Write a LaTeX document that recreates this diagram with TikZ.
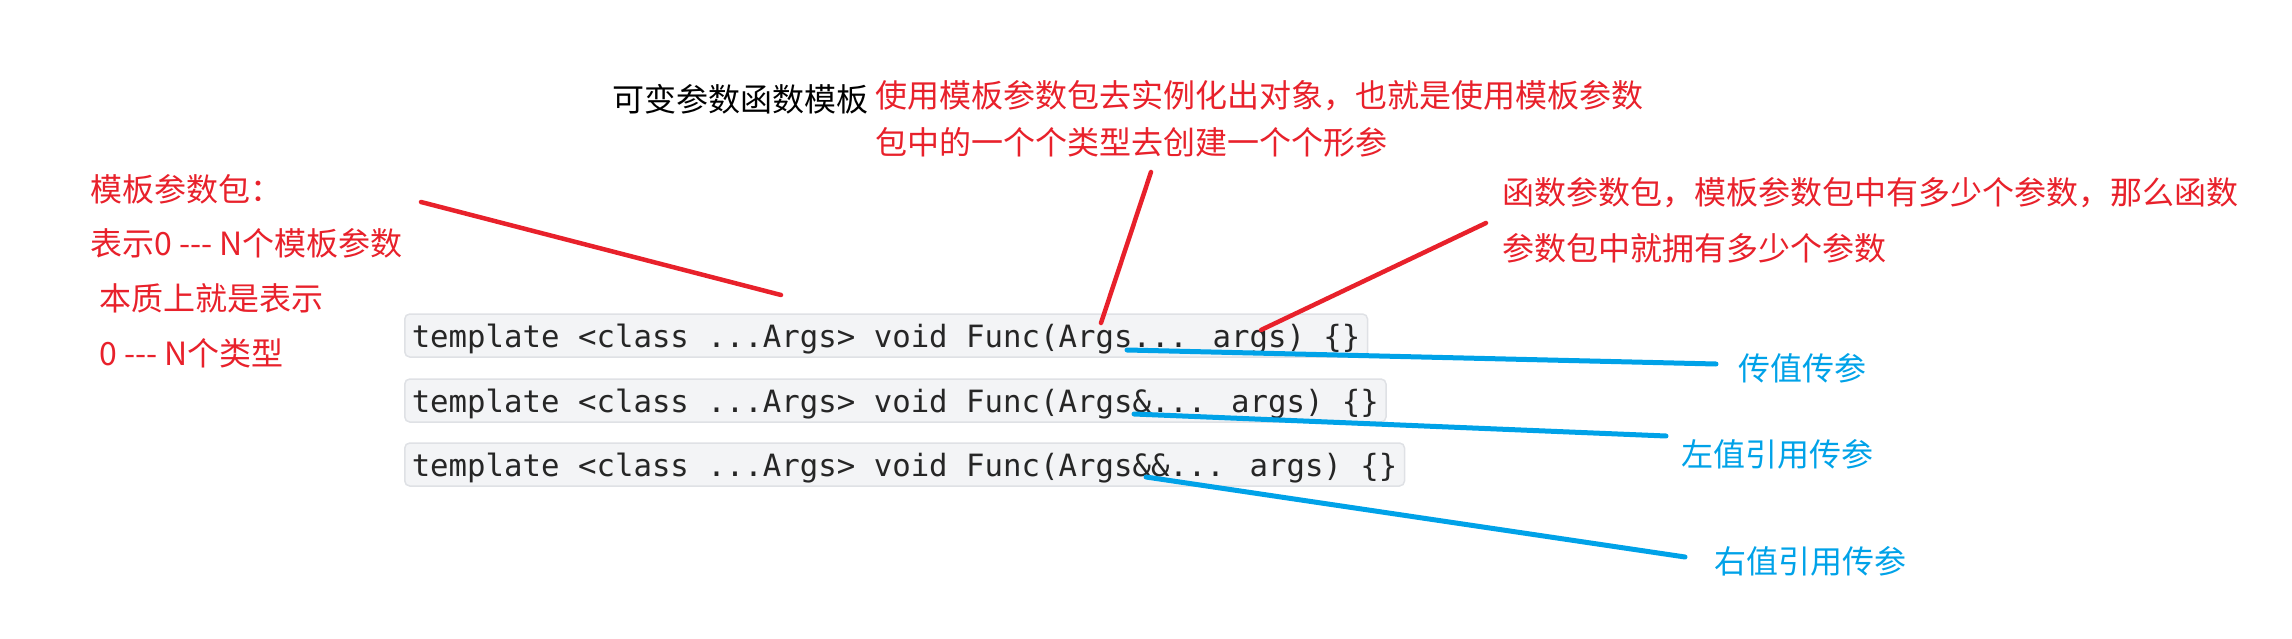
\documentclass[tikz,border=0pt]{standalone}
\usepackage{fontspec}
\newfontfamily\cjk[Ligatures=ResetAll]{Noto Sans CJK SC}
\newfontfamily\codefont{DejaVu Sans Mono}
\definecolor{nred}{HTML}{E8212B}
\definecolor{nblue}{HTML}{00A2E8}
\definecolor{codebg}{HTML}{F3F4F6}
\definecolor{codeframe}{HTML}{DFE1E5}
\tikzset{
  cjktext/.style={anchor=base west, inner sep=0pt, font=\cjk\fontsize{32}{38}\selectfont},
  redtext/.style={cjktext, text=nred},
  bluetext/.style={cjktext, text=nblue},
  blacktext/.style={cjktext, text=black},
  codebox/.style={anchor=base west, fill=codebg, draw=codeframe, line width=1.5pt,
    rounded corners=5pt, inner xsep=7pt, inner ysep=0pt, text height=33pt, text depth=10pt,
    font=\codefont\fontsize{30.7}{36}\selectfont, text=black!85},
  redline/.style={draw=nred, line width=4.5pt, line cap=round},
  blueline/.style={draw=nblue, line width=5pt, line cap=round}
}
\begin{document}
\begin{tikzpicture}[x=1pt, y=-1pt]
\useasboundingbox (0,0) rectangle (2292,639);
% title and red texts
\node[blacktext] (title) at (612,112) {可变参数函数模板};
\node[redtext] (top1) at (875,108) {使用模板参数包去实例化出对象，也就是使用模板参数};
\node[redtext] (top2) at (875,155) {包中的一个个类型去创建一个个形参};
\node[redtext] (left1) at (90,202) {模板参数包：};
\node[redtext] (left2) at (90,255) {表示0 -{}-{}- N个模板参数};
\node[redtext] (left3) at (99,310) {本质上就是表示};
\node[redtext] (left4) at (99,365) {0 -{}-{}- N个类型};
\node[redtext] (right1) at (1502,205) {函数参数包，模板参数包中有多少个参数，那么函数};
\node[redtext] (right2) at (1502,260) {参数包中就拥有多少个参数};
% code boxes
\node[codebox] (code1) at (404,347) {template <class ...Args> void Func(Args... args) \{\}};
\node[codebox] (code2) at (404,412) {template <class ...Args> void Func(Args\&... args) \{\}};
\node[codebox] (code3) at (404,476) {template <class ...Args> void Func(Args\&\&... args) \{\}};
% blue labels
\node[bluetext] (val) at (1738,380) {传值传参};
\node[bluetext] (lref) at (1681,466) {左值引用传参};
\node[bluetext] (rref) at (1714,573) {右值引用传参};
% line end points
\coordinate (r1a) at (421,202);
\coordinate (r1b) at (781,295);
\coordinate (r2a) at (1151,172);
\coordinate (r2b) at (1101,323);
\coordinate (r3a) at (1486,223);
\coordinate (r3b) at (1261,330);
\coordinate (b1a) at (1127,350);
\coordinate (b1b) at (1716,364);
\coordinate (b2a) at (1134,414);
\coordinate (b2b) at (1666,436);
\coordinate (b3a) at (1146,477);
\coordinate (b3b) at (1685,557);
% lines
\draw[redline] (r1a) -- (r1b);
\draw[redline] (r2a) -- (r2b);
\draw[redline] (r3a) -- (r3b);
\draw[blueline] (b1a) -- (b1b);
\draw[blueline] (b2a) -- (b2b);
\draw[blueline] (b3a) -- (b3b);
\end{tikzpicture}
\end{document}
